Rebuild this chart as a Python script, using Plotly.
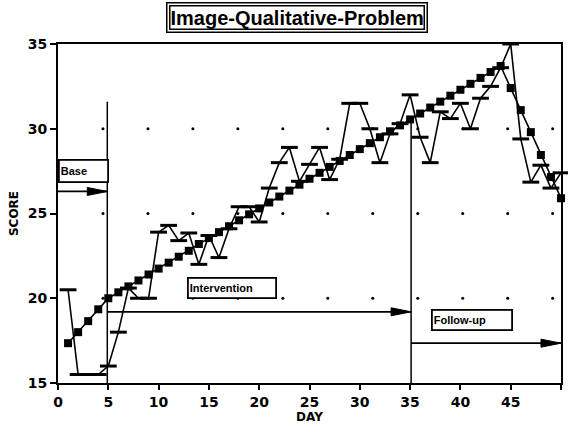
import plotly.graph_objects as go

# ---------------- data ----------------
days = list(range(1, 51))
trend_score = [17.35, 18.0, 18.65, 19.35, 20.0, 20.35, 20.7, 21.05, 21.4, 21.75,
               22.1, 22.45, 22.8, 23.2, 23.55, 23.9, 24.25, 24.6, 24.95, 25.3,
               25.65, 26.0, 26.35, 26.7, 27.05, 27.4, 27.75, 28.1, 28.45, 28.8,
               29.15, 29.5, 29.85, 30.2, 30.55, 30.9, 31.25, 31.6, 31.95, 32.3,
               32.65, 33.0, 33.35, 33.7, 32.4, 31.1, 29.8, 28.45, 27.15, 25.9]
observed_score = [20.5, 15.5, 15.5, 15.5, 16.0, 18.0, 20.6, 20.0, 20.0, 23.9,
                  24.3, 23.4, 23.85, 22.0, 23.7, 22.4, 24.1, 25.4, 25.4, 24.5,
                  26.5, 28.0, 28.9, 26.9, 27.9, 28.9, 27.0, 28.2, 31.5, 31.5,
                  30.0, 28.0, 29.7, 30.3, 32.0, 29.5, 28.0, 31.0, 30.6, 31.5,
                  30.0, 31.8, 32.5, 33.6, 35.0, 29.4, 26.85, 27.85, 26.5, 27.4]
x_ticks = [0, 5, 10, 15, 20, 25, 30, 35, 40, 45, 50]
y_ticks = [15, 20, 25, 30, 35]
grid_dot_x = [4.47, 8.94, 13.41, 17.88, 22.35, 26.82, 31.29, 35.76, 40.23, 44.7, 49.17]
grid_dot_y = [20, 25, 30]

title_text = "Image-Qualitative-Problem"
phase_labels = ["Base", "Intervention", "Follow-up"]
phase_change_1 = 4.9
phase_change_2 = 35.1

# ---------------- figure ----------------
fig = go.Figure()

gx = [x for y in grid_dot_y for x in grid_dot_x]
gy = [y for y in grid_dot_y for x in grid_dot_x]
fig.add_trace(go.Scatter(x=gx, y=gy, mode="markers",
                         marker=dict(symbol="circle", size=3, color="black"),
                         hoverinfo="skip"))

fig.add_trace(go.Scatter(x=days, y=trend_score, mode="lines+markers",
                         line=dict(color="black", width=1.6),
                         marker=dict(symbol="square", size=8, color="black"),
                         cliponaxis=False))

fig.add_trace(go.Scatter(x=days, y=observed_score, mode="lines+markers",
                         line=dict(color="black", width=1.6),
                         marker=dict(symbol="line-ew", size=12,
                                     line=dict(color="black", width=3)),
                         cliponaxis=False))

# phase change lines
fig.add_shape(type="line", x0=phase_change_1, x1=phase_change_1, y0=15, y1=31.6,
              xref="x", yref="y", line=dict(color="black", width=1.5))
fig.add_shape(type="line", x0=phase_change_2, x1=phase_change_2, y0=15, y1=30.6,
              xref="x", yref="y", line=dict(color="black", width=1.5))

# arrows
arrows = [(-0.2, phase_change_1, 26.3), (phase_change_1, phase_change_2, 19.2),
          (phase_change_2, 50, 17.35)]
for x0, x1, yv in arrows:
    fig.add_shape(type="line", x0=x0, x1=x1, y0=yv, y1=yv, xref="x", yref="y",
                  line=dict(color="black", width=1.8))
    fig.add_shape(type="path", xref="x", yref="y",
                  xsizemode="pixel", ysizemode="pixel", xanchor=x1, yanchor=yv,
                  path="M0,0 L-20,4 L-20,-4 Z",
                  fillcolor="black", line=dict(color="black", width=1))

label_font = dict(family="Liberation Sans", size=11, color="black", weight="bold")
boxes = [(0.0, 27.48, 45, 18), (12.8, 20.6, 84, 16), (37.1, 18.72, 76, 16)]
for txt, (bx, by, bw, bh) in zip(phase_labels, boxes):
    fig.add_annotation(x=bx, y=by, xref="x", yref="y", text=txt, showarrow=False,
                       xanchor="left", yanchor="middle", align="left",
                       width=bw, height=bh, font=label_font,
                       bordercolor="black", borderwidth=1.8, borderpad=1,
                       bgcolor="white")

# title with double border
title_font = dict(family="Liberation Sans", size=20, color="black", weight="bold")
fig.add_annotation(x=0.4745, y=1.078, xref="paper", yref="paper", text=title_text,
                   showarrow=False, font=title_font, bordercolor="black",
                   borderwidth=1.5, borderpad=0, xanchor="center", yanchor="middle")
fig.add_annotation(x=0.4745, y=1.078, xref="paper", yref="paper", text=title_text,
                   showarrow=False, font=dict(title_font, color="rgba(0,0,0,0)"),
                   bordercolor="black", borderwidth=1.5, borderpad=3,
                   xanchor="center", yanchor="middle")

tick_font = dict(family="DejaVu Sans", size=14, color="black", weight="bold")
axis_title_font = dict(family="DejaVu Sans", size=12, color="black", weight="bold")

fig.update_layout(
    width=568, height=429,
    margin=dict(l=58, r=5, t=44, b=46),
    plot_bgcolor="white", paper_bgcolor="white",
    showlegend=False,
    xaxis=dict(range=[0, 50], tickvals=x_ticks, ticks="outside", ticklen=5,
               tickwidth=2, tickcolor="black", showline=True, linewidth=2,
               linecolor="black", mirror=True, showgrid=False, zeroline=False,
               tickfont=tick_font,
               title=dict(text="DAY", font=axis_title_font, standoff=3)),
    yaxis=dict(range=[15, 35], tickvals=y_ticks, ticks="outside", ticklen=6,
               tickwidth=2, tickcolor="black", showline=True, linewidth=2,
               linecolor="black", mirror=True, showgrid=False, zeroline=False,
               tickfont=tick_font,
               title=dict(text="SCORE", font=axis_title_font, standoff=7)),
)

fig.write_html("out.html")
